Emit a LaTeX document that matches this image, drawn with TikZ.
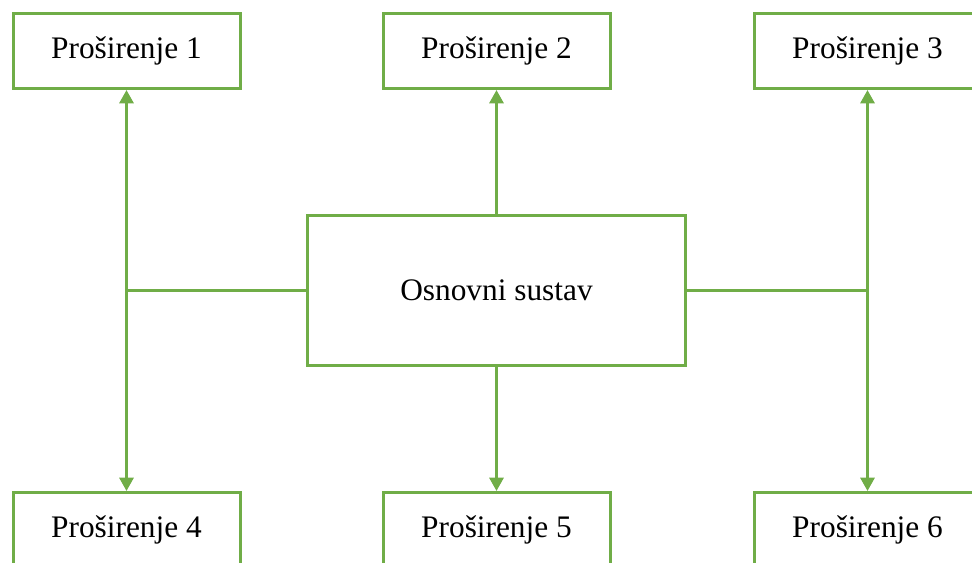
\documentclass[tikz,border=0pt]{standalone}
\usepackage{fontspec}
\setmainfont{Liberation Serif}
\usetikzlibrary{arrows.meta}
\definecolor{c1}{HTML}{70AD47}

\begin{document}
\begin{tikzpicture}[
    x=0.75pt, y=-0.75pt,
    every node/.style={font=\fontsize{23.5}{28}\selectfont},
    ext/.style={rectangle, draw=c1, fill=white, line width=2.25pt,
        minimum width=170.25pt, minimum height=56.25pt, inner sep=0pt},
    core/.style={ext, minimum width=283.5pt, minimum height=112.5pt},
    link/.style={c1, line width=2.25pt},
    tip/.style={link, -{Triangle[length=10pt, width=10.5pt]}},
]
\useasboundingbox (0, 0) rectangle (972, 562);

% ============================================================ the extensions
\node[ext] (p1) at (126.5, 51) {Proširenje 1};
\node[ext] (p2) at (496.5, 51) {Proširenje 2};
\node[ext] (p3) at (867.5, 51) {Proširenje 3};
\node[ext] (p4) at (126.5, 530) {Proširenje 4};
\node[ext] (p5) at (496.5, 530) {Proširenje 5};
\node[ext] (p6) at (867.5, 530) {Proširenje 6};

% ============================================================ the base system
\node[core] (base) at (496.5, 290) {Osnovni sustav};

% straight up and down
\draw[tip] (base.north) -- (p2.south);
\draw[tip] (base.south) -- (p5.north);

% out to the sides, then split
\coordinate (jl) at (base.west -| p1.south);
\coordinate (jr) at (base.east -| p3.south);
\draw[link] (base.west) -- (jl);
\draw[link] (base.east) -- (jr);
\draw[tip] (jl) -- (p1.south);
\draw[tip] (jl) -- (p4.north);
\draw[tip] (jr) -- (p3.south);
\draw[tip] (jr) -- (p6.north);

\end{tikzpicture}
\end{document}
